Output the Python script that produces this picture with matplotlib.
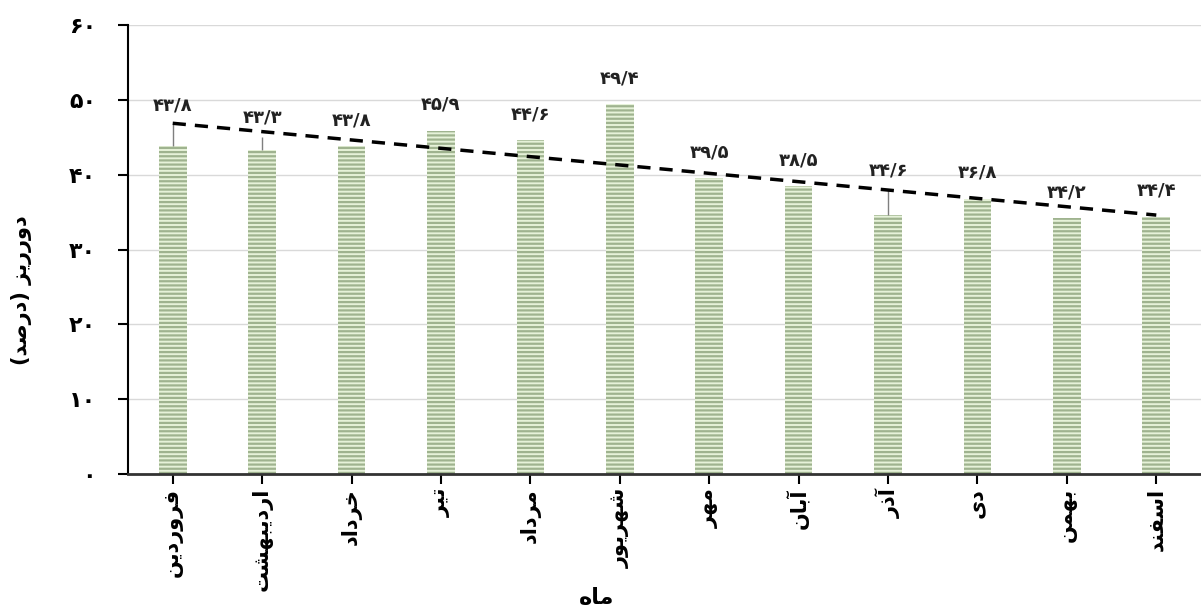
import numpy as np
import matplotlib
matplotlib.use("Agg")
import matplotlib.pyplot as plt

# data
months = ['فروردین', 'اردیبهشت', 'خرداد', 'تیر', 'مرداد', 'شهریور',
          'مهر', 'آبان', 'آذر', 'دی', 'بهمن', 'اسفند']
values = [43.8, 43.3, 43.8, 45.9, 44.6, 49.4, 39.5, 38.5, 34.6, 36.8, 34.2, 34.4]
upper_err = [3.0, 1.8, 0, 0, 0, 0, 0, 0, 3.4, 0, 0, 0]
yticks = [0, 10, 20, 30, 40, 50, 60]
xlabel = 'ماه'
ylabel = 'دورریز (درصد)'

# contextual forms: isolated, final, initial, medial (None = does not join left)
FORMS = {
    'ا': ('\uFE8D', '\uFE8E', None, None),
    'آ': ('\uFE81', '\uFE82', None, None),
    'ب': ('\uFE8F', '\uFE90', '\uFE91', '\uFE92'),
    'ت': ('\uFE95', '\uFE96', '\uFE97', '\uFE98'),
    'خ': ('\uFEA5', '\uFEA6', '\uFEA7', '\uFEA8'),
    'د': ('\uFEA9', '\uFEAA', None, None),
    'ذ': ('\uFEAB', '\uFEAC', None, None),
    'ر': ('\uFEAD', '\uFEAE', None, None),
    'ز': ('\uFEAF', '\uFEB0', None, None),
    'س': ('\uFEB1', '\uFEB2', '\uFEB3', '\uFEB4'),
    'ش': ('\uFEB5', '\uFEB6', '\uFEB7', '\uFEB8'),
    'ص': ('\uFEB9', '\uFEBA', '\uFEBB', '\uFEBC'),
    'ف': ('\uFED1', '\uFED2', '\uFED3', '\uFED4'),
    'ل': ('\uFEDD', '\uFEDE', '\uFEDF', '\uFEE0'),
    'م': ('\uFEE1', '\uFEE2', '\uFEE3', '\uFEE4'),
    'ن': ('\uFEE5', '\uFEE6', '\uFEE7', '\uFEE8'),
    'ه': ('\uFEE9', '\uFEEA', '\uFEEB', '\uFEEC'),
    'و': ('\uFEED', '\uFEEE', None, None),
    'ی': ('\uFBFC', '\uFBFD', '\uFBFE', '\uFBFF'),
}
MIRROR = {'(': ')', ')': '('}


def fa(text):
    # join the letters and put them in visual (left-to-right) order
    out = []
    for i, ch in enumerate(text):
        if ch not in FORMS:
            out.append(MIRROR.get(ch, ch))
            continue
        iso, fin, ini, med = FORMS[ch]
        prev = text[i - 1] if i > 0 else ''
        nxt = text[i + 1] if i + 1 < len(text) else ''
        jp = prev in FORMS and FORMS[prev][2] is not None
        jn = ini is not None and nxt in FORMS
        if jp and jn:
            out.append(med)
        elif jp:
            out.append(fin)
        elif jn:
            out.append(ini)
        else:
            out.append(iso)
    return ''.join(reversed(out))


def fa_num(v):
    s = str(v).replace('.', '/')
    return s.translate(str.maketrans('0123456789', '۰۱۲۳۴۵۶۷۸۹'))


plt.rcParams['font.family'] = ['DejaVu Sans']
plt.rcParams['hatch.linewidth'] = 1.6

fig = plt.figure(figsize=(12.01, 6.15), dpi=100)
ax = fig.add_axes([128 / 1201, 1 - 474 / 615, 1 - 128 / 1201, (474 - 25) / 615])

x = np.arange(len(months))
ax.bar(x, values, width=0.31, color='#e6f2d9', edgecolor='#9fb38f',
       linewidth=0, hatch='----', zorder=2)
ax.errorbar(x, values, yerr=[np.zeros(len(x)), upper_err], fmt='none',
            ecolor='#7f7f7f', elinewidth=1, capsize=0, zorder=3)

# linear trend line
coef = np.polyfit(x, values, 1)
ax.plot(x, np.polyval(coef, x), color='black', linestyle='--', lw=2.5,
        dashes=(3.8, 2.6), zorder=4)

for i, (v, e) in enumerate(zip(values, upper_err)):
    ax.annotate(fa_num(v), (i, v + e), xytext=(0, 7 if e else 12),
                textcoords='offset points', ha='center', va='bottom',
                fontsize=13, fontweight='bold', color='#222222', zorder=5)

ax.set_xlim(-0.5, 11.5)
ax.set_ylim(0, 60)
ax.set_yticks(yticks)
ax.set_yticklabels([fa_num(t) for t in yticks], fontsize=16, fontweight='bold')
ax.set_xticks(x)
ax.set_xticklabels([fa(m) for m in months], rotation=90, fontsize=15,
                   fontweight='bold')

ax.grid(axis='y', color='#d9d9d9', linewidth=1, zorder=0)
ax.set_axisbelow(True)
ax.spines['top'].set_visible(False)
ax.spines['right'].set_visible(False)
ax.spines['left'].set_linewidth(1.5)
ax.spines['bottom'].set_linewidth(2)
ax.spines['bottom'].set_color('#333333')
ax.tick_params(axis='y', length=7, width=1.5, pad=16)
ax.tick_params(axis='x', length=7, width=1.5, pad=3)

ax.set_xlabel(fa(xlabel), fontsize=16, fontweight='bold')
ax.xaxis.label.set_va('center')
ax.xaxis.set_label_coords((597 - 128) / 1073, (474 - 598) / 449)
ax.set_ylabel(fa(ylabel), fontsize=15, fontweight='bold')
ax.yaxis.label.set_va('center')
ax.yaxis.set_label_coords((22 - 128) / 1073, 0.41)

fig.savefig('out.png', dpi=100)
